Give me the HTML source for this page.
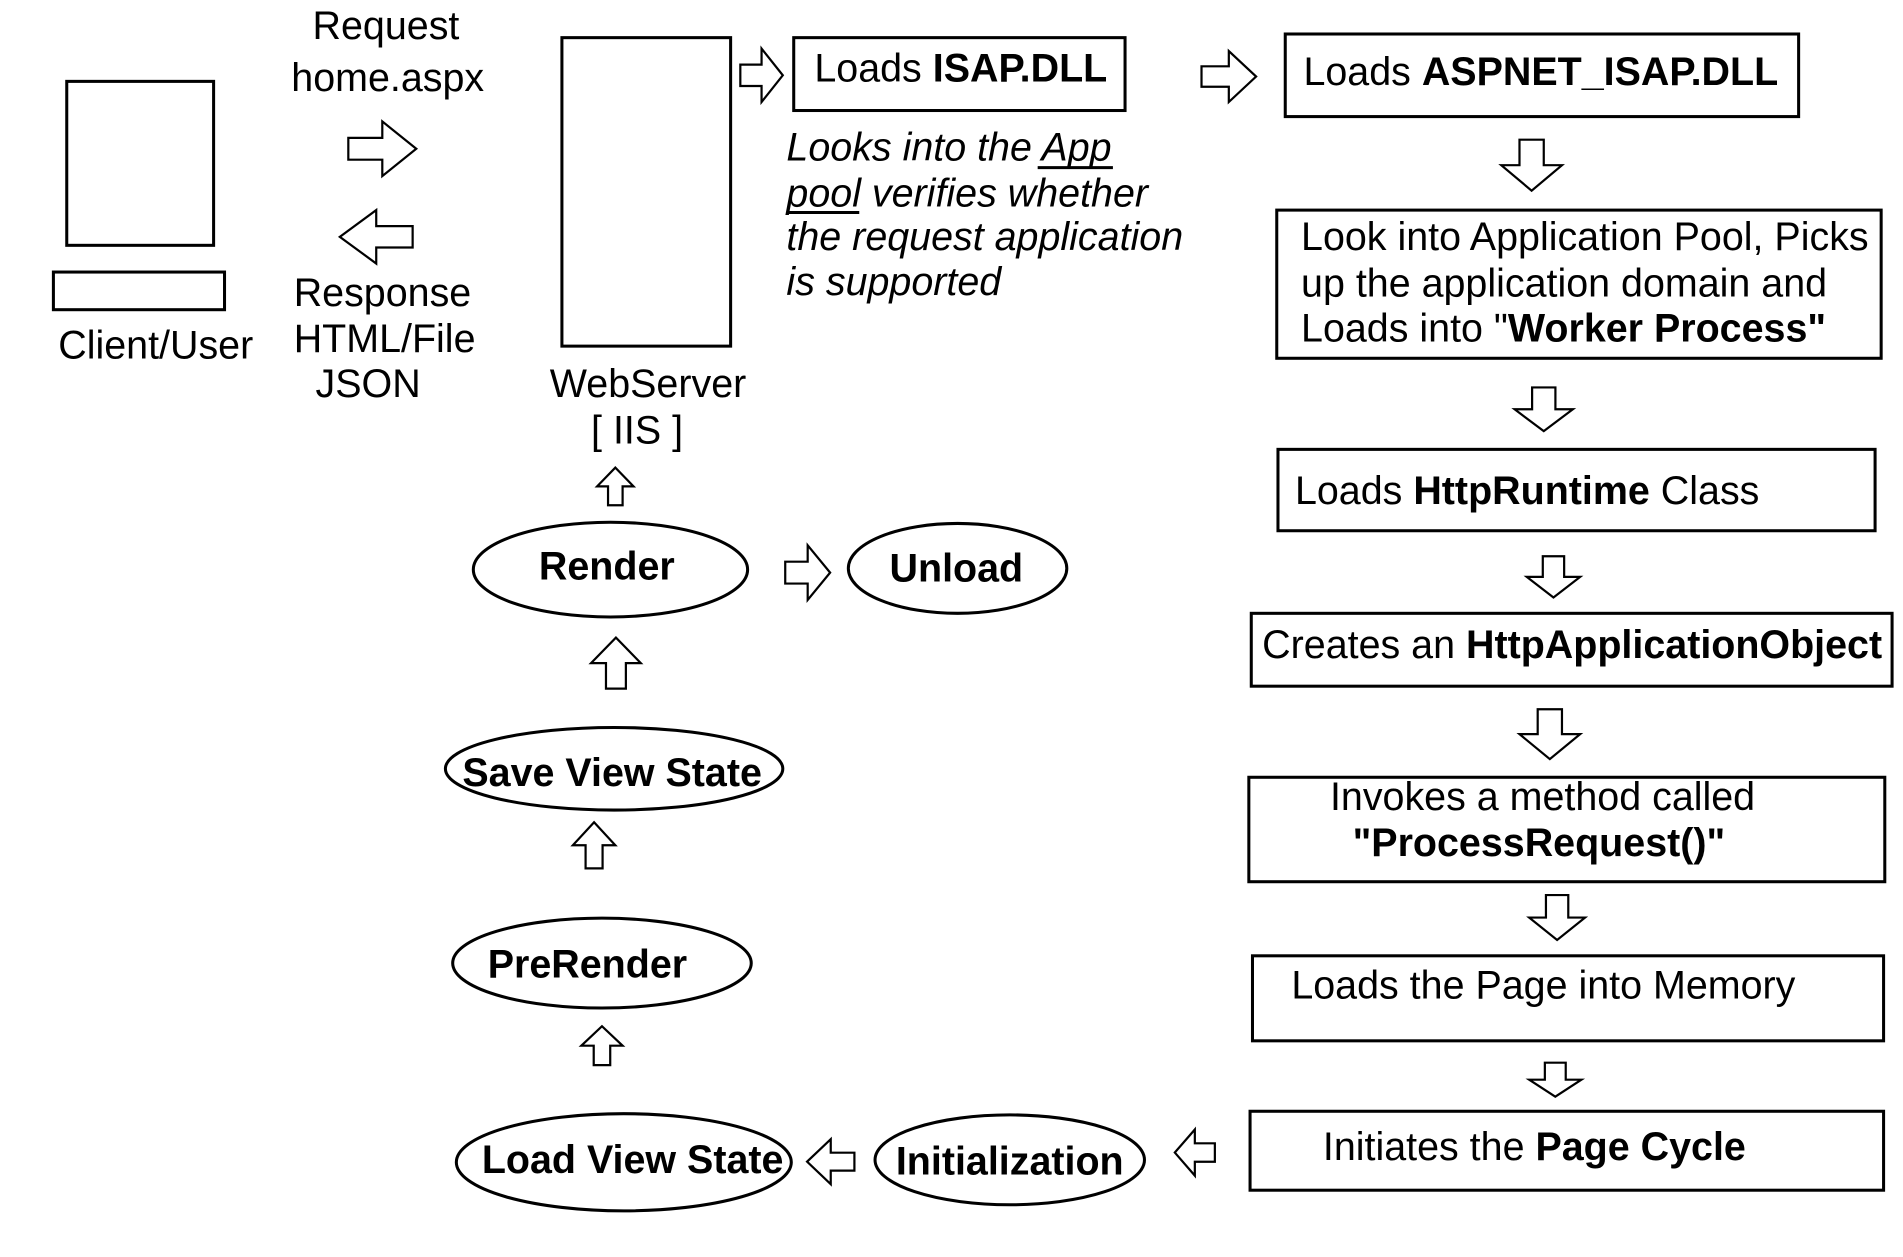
<!DOCTYPE html>
<html><head><meta charset="utf-8"><style>
html,body{margin:0;padding:0;background:#fff;}
svg{display:block;}
text{font-family:"Liberation Sans",Arial,sans-serif;font-size:32.5px;fill:#000;}
.b{font-weight:bold;}
.i{font-style:italic;}
</style></head><body>
<svg width="1903" height="1257" viewBox="0 0 1568 1035" preserveAspectRatio="none" xmlns="http://www.w3.org/2000/svg">
<defs>
<polygon id="ar" points="0,0.3 0.5,0.3 0.5,0 1,0.5 0.5,1 0.5,0.7 0,0.7" fill="#fff" stroke="#000" stroke-width="2.2" vector-effect="non-scaling-stroke"/>
<polygon id="al" points="1,0.3 0.5,0.3 0.5,0 0,0.5 0.5,1 0.5,0.7 1,0.7" fill="#fff" stroke="#000" stroke-width="2.2" vector-effect="non-scaling-stroke"/>
<polygon id="ad" points="0.3,0 0.7,0 0.7,0.5 1,0.5 0.5,1 0,0.5 0.3,0.5" fill="#fff" stroke="#000" stroke-width="2.2" vector-effect="non-scaling-stroke"/>
<polygon id="au" points="0.3,1 0.7,1 0.7,0.5 1,0.5 0.5,0 0,0.5 0.3,0.5" fill="#fff" stroke="#000" stroke-width="2.2" vector-effect="non-scaling-stroke"/>
</defs>
<g fill="none" stroke="#000" stroke-width="2.5">
<rect x="55" y="67" width="121" height="135"/>
<rect x="44" y="224" width="141" height="31"/>
<rect x="463" y="31" width="139" height="254"/>
<rect x="654" y="31" width="273" height="60"/>
<rect x="1059" y="28" width="423" height="68"/>
<rect x="1052" y="173" width="498" height="122"/>
<rect x="1053" y="370" width="492" height="67"/>
<rect x="1031" y="505" width="528" height="60"/>
<rect x="1029" y="640" width="524" height="86"/>
<rect x="1032" y="787" width="520" height="70"/>
<rect x="1030" y="915" width="522" height="65"/>
<ellipse cx="832" cy="955" rx="111" ry="37"/>
<ellipse cx="514" cy="957" rx="138" ry="40"/>
<ellipse cx="496" cy="793" rx="123" ry="37"/>
<ellipse cx="506" cy="633" rx="139" ry="34"/>
<ellipse cx="503" cy="469" rx="113" ry="39"/>
<ellipse cx="789" cy="468" rx="90" ry="37"/>
<line x1="855" y1="138" x2="917" y2="138"/>
<line x1="648" y1="175" x2="708" y2="175"/>
</g>
<use href="#ar" transform="translate(287,100) scale(56,45)"/>
<use href="#al" transform="translate(280,173) scale(60,44)"/>
<use href="#ar" transform="translate(610,40) scale(35,44)"/>
<use href="#ar" transform="translate(990,42) scale(45,42)"/>
<use href="#ad" transform="translate(1237,115) scale(50,42)"/>
<use href="#ad" transform="translate(1248,319) scale(48,36)"/>
<use href="#ad" transform="translate(1258,458) scale(44,34)"/>
<use href="#ad" transform="translate(1252,584) scale(50,41)"/>
<use href="#ad" transform="translate(1260,737) scale(46,37)"/>
<use href="#ad" transform="translate(1260,875) scale(43,28)"/>
<use href="#al" transform="translate(968,930) scale(33,38)"/>
<use href="#al" transform="translate(665,938) scale(39,37)"/>
<use href="#au" transform="translate(479,845) scale(34,32)"/>
<use href="#au" transform="translate(472,677) scale(35,38)"/>
<use href="#au" transform="translate(487,525) scale(41,42)"/>
<use href="#ar" transform="translate(647,449) scale(37,45)"/>
<use href="#au" transform="translate(492,385) scale(30,31)"/>

<text x="48" y="295">Client/User</text>
<text x="318" y="32" text-anchor="middle">Request</text>
<text x="240" y="75">home.aspx</text>
<text x="242" y="252">Response</text>
<text x="242" y="290">HTML/File</text>
<text x="260" y="327">JSON</text>
<text x="453" y="327">WebServer</text>
<text x="487" y="365">[ IIS ]</text>
<text x="671" y="67">Loads <tspan class="b">ISAP.DLL</tspan></text>
<text class="i" x="648" y="132">Looks into the App</text>
<text class="i" x="648" y="170">pool verifies whether</text>
<text class="i" x="648" y="206">the request application</text>
<text class="i" x="648" y="243">is supported</text>
<text x="1074" y="70">Loads <tspan class="b">ASPNET_ISAP.DLL</tspan></text>
<text x="1072" y="206">Look into Application Pool, Picks</text>
<text x="1072" y="244">up the application domain and</text>
<text x="1072" y="281">Loads into "<tspan class="b">Worker Process"</tspan></text>
<text x="1067" y="415">Loads <tspan class="b">HttpRuntime</tspan> Class</text>
<text x="1040" y="542">Creates an <tspan class="b">HttpApplicationObject</tspan></text>
<text x="1271" y="667" text-anchor="middle">Invokes a method called</text>
<text x="1268" y="705" text-anchor="middle" class="b">"ProcessRequest()"</text>
<text x="1064" y="822">Loads the Page into Memory</text>
<text x="1090" y="955">Initiates the <tspan class="b">Page Cycle</tspan></text>
<text class="b" x="832" y="967" text-anchor="middle">Initialization</text>
<text class="b" x="397" y="966">Load View State</text>
<text class="b" x="484" y="805" text-anchor="middle">PreRender</text>
<text class="b" x="381" y="647">Save View State</text>
<text class="b" x="500" y="477" text-anchor="middle">Render</text>
<text class="b" x="788" y="479" text-anchor="middle">Unload</text>
</svg>
</body></html>
